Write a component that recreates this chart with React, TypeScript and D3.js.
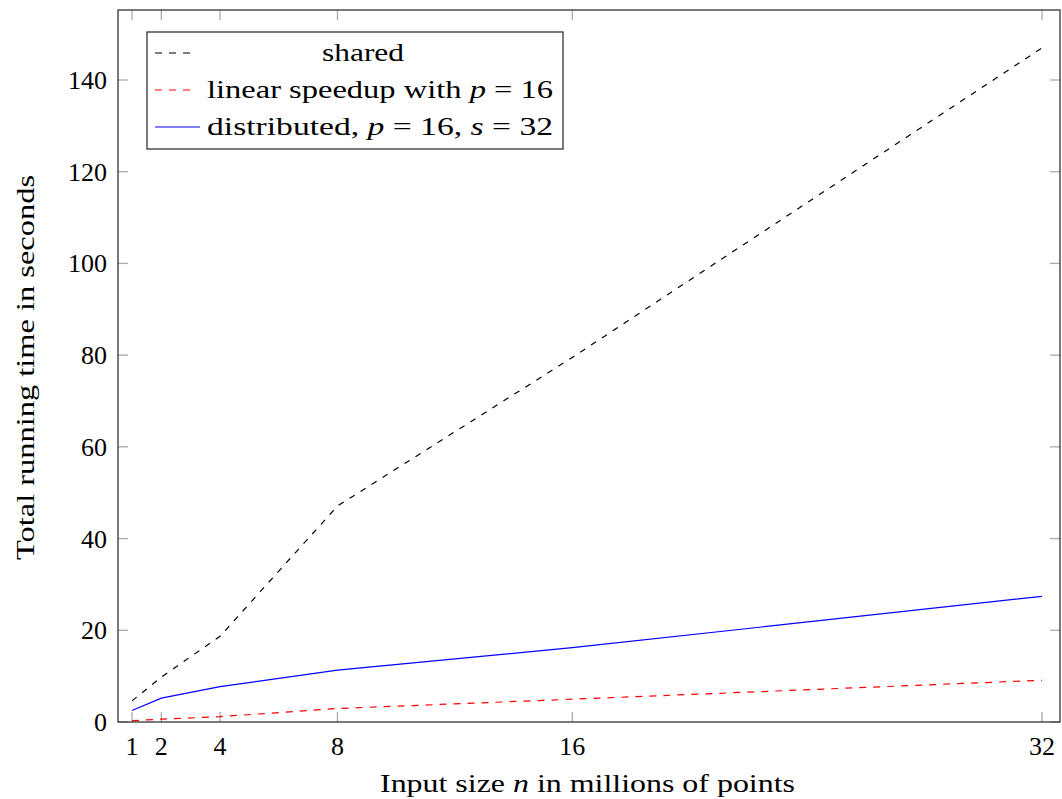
import * as d3 from "d3";

const sizes = [1, 2, 4, 8, 16, 32];
const shared = [4.6, 9.8, 18.7, 47.1, 79.5, 147.0];
const linear = [0.29, 0.61, 1.17, 2.94, 4.97, 9.1];
const distributed = [2.5, 5.2, 7.7, 11.3, 16.2, 27.4];
const yTicks = [0, 20, 40, 60, 80, 100, 120, 140];

const W = 1062;
const H = 799;
const left = 118;
const right = 1060;
const top = 10;
const bottom = 722;
const font = "'Liberation Serif', 'DejaVu Serif', serif";

const x = d3.scaleLinear().domain([1, 32]).range([132, 1042]);
const y = d3.scaleLinear().domain([0, 140]).range([bottom, 80]);

const line = d3
  .line<number>()
  .x((_, i) => x(sizes[i]))
  .y((d) => y(d));

// stretched text, to get close to the wider Computer Modern look
const stretch = { lengthAdjust: "spacingAndGlyphs" as const };

export default function App() {
  const series = [
    { values: shared, color: "#000", dash: "6,7" },
    { values: linear, color: "#ff0000", dash: "7,7" },
    { values: distributed, color: "#0000ff", dash: null },
  ];

  return (
    <svg
      width={W}
      height={H}
      style={{ position: "absolute", left: 0, top: 0, background: "#fff" }}
      fontFamily={font}
    >
      {/* ticks, inside the box on all four sides */}
      {sizes.map((s) => (
        <g key={"xt" + s} stroke="#aaa" strokeWidth={1.3}>
          <line x1={x(s)} x2={x(s)} y1={bottom} y2={bottom - 10} />
          <line x1={x(s)} x2={x(s)} y1={top} y2={top + 10} />
        </g>
      ))}
      {yTicks.map((t) => (
        <g key={"yt" + t} stroke="#aaa" strokeWidth={1.3}>
          <line x1={left} x2={left + 10} y1={y(t)} y2={y(t)} />
          <line x1={right} x2={right - 10} y1={y(t)} y2={y(t)} />
        </g>
      ))}

      {/* series */}
      {series.map((s, i) => (
        <path
          key={i}
          d={line(s.values) ?? ""}
          fill="none"
          stroke={s.color}
          strokeWidth={1.2}
          strokeDasharray={s.dash ?? undefined}
        />
      ))}

      {/* frame */}
      <rect
        x={left}
        y={top}
        width={right - left}
        height={bottom - top}
        fill="none"
        stroke="#333"
        strokeWidth={1.3}
      />

      {/* tick labels */}
      {sizes.map((s) => (
        <text key={"xl" + s} x={x(s)} y={755} textAnchor="middle" fontSize={26} fill="#000">
          {s}
        </text>
      ))}
      {yTicks.map((t) => (
        <text key={"yl" + t} x={107} y={y(t) + 9} textAnchor="end" fontSize={26} fill="#000">
          {t}
        </text>
      ))}

      {/* axis titles */}
      <text x={380} y={792} fontSize={26} fill="#000" textLength={415} {...stretch}>
        Input size <tspan fontStyle="italic">n</tspan> in millions of points
      </text>
      <text
        transform={`translate(34,560) rotate(-90)`}
        fontSize={26}
        fill="#000"
        textLength={385}
        {...stretch}
      >
        Total running time in seconds
      </text>

      {/* legend */}
      <g>
        <rect x={147} y={32} width={416} height={117} fill="#fff" stroke="#333" strokeWidth={1.3} />
        <line x1={155} x2={197} y1={53} y2={53} stroke="#000" strokeWidth={1.2} strokeDasharray="7,7" />
        <line x1={155} x2={197} y1={90} y2={90} stroke="#ff0000" strokeWidth={1.2} strokeDasharray="7,7" />
        <line x1={155} x2={200} y1={127} y2={127} stroke="#0000ff" strokeWidth={1.2} />
        <text x={322} y={61} fontSize={26} fill="#000" textLength={82} {...stretch}>
          shared
        </text>
        <text x={207} y={98} fontSize={26} fill="#000" textLength={346} {...stretch}>
          linear speedup with <tspan fontStyle="italic">p</tspan> = 16
        </text>
        <text x={207} y={135} fontSize={26} fill="#000" textLength={346} {...stretch}>
          distributed, <tspan fontStyle="italic">p</tspan> = 16, <tspan fontStyle="italic">s</tspan> = 32
        </text>
      </g>
    </svg>
  );
}
